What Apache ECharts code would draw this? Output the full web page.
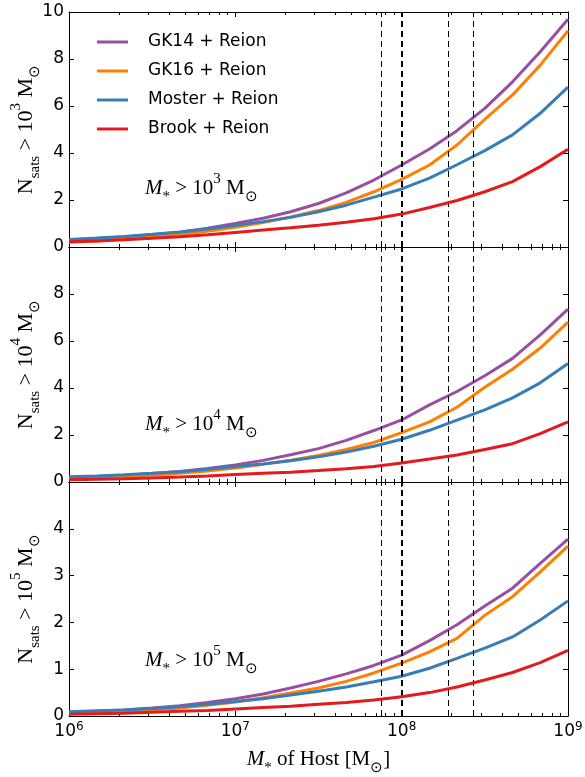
<!DOCTYPE html>
<html><head><meta charset="utf-8">
<script src="https://cdn.jsdelivr.net/npm/echarts@6/dist/echarts.min.js"></script>
<style>html,body{margin:0;padding:0;background:#fff}#c{width:585px;height:777px}</style>
</head><body><div id="c"></div>
<script>
// ---- data ----
const hostMass = [1.00e6, 1.47e6, 2.15e6, 3.16e6, 4.64e6, 6.81e6, 1.00e7, 1.47e7, 2.15e7, 3.16e7, 4.64e7, 6.81e7, 1.00e8, 1.47e8, 2.15e8, 3.16e8, 4.64e8, 6.81e8, 1.00e9];
const seriesNames = ['GK14 + Reion', 'GK16 + Reion', 'Moster + Reion', 'Brook + Reion'];
// panel 1: M* > 10^3
const gk14_p1   = [0.30,0.36,0.43,0.52,0.63,0.80,1.00,1.22,1.50,1.85,2.30,2.85,3.49,4.17,4.95,5.90,7.03,8.31,9.69];
const gk16_p1   = [0.20,0.26,0.33,0.42,0.53,0.67,0.84,1.04,1.28,1.55,1.90,2.35,2.88,3.49,4.34,5.43,6.47,7.74,9.20];
const moster_p1 = [0.32,0.38,0.45,0.54,0.64,0.77,0.92,1.08,1.26,1.50,1.78,2.12,2.47,2.93,3.50,4.10,4.77,5.69,6.80];
const brook_p1  = [0.22,0.26,0.31,0.37,0.44,0.52,0.62,0.72,0.82,0.93,1.05,1.20,1.40,1.68,1.98,2.35,2.78,3.42,4.16];
// panel 2: M* > 10^4
const gk14_p2   = [0.18,0.23,0.29,0.36,0.45,0.57,0.72,0.92,1.16,1.42,1.77,2.19,2.64,3.28,3.85,4.52,5.26,6.26,7.36];
const gk16_p2   = [0.14,0.18,0.23,0.29,0.37,0.47,0.60,0.76,0.93,1.13,1.38,1.68,2.10,2.56,3.18,4.03,4.80,5.70,6.80];
const moster_p2 = [0.22,0.26,0.31,0.37,0.44,0.54,0.66,0.77,0.90,1.07,1.28,1.52,1.82,2.20,2.63,3.07,3.58,4.22,5.04];
const brook_p2  = [0.10,0.12,0.14,0.17,0.21,0.26,0.32,0.37,0.42,0.49,0.56,0.66,0.81,0.98,1.15,1.38,1.63,2.06,2.56];
// panel 3: M* > 10^5
const gk14_p3   = [0.08,0.10,0.13,0.17,0.22,0.29,0.37,0.47,0.60,0.74,0.90,1.08,1.30,1.61,1.95,2.35,2.73,3.26,3.78];
const gk16_p3   = [0.06,0.08,0.10,0.13,0.17,0.23,0.30,0.39,0.49,0.60,0.74,0.92,1.13,1.37,1.66,2.15,2.55,3.08,3.63];
const moster_p3 = [0.09,0.11,0.13,0.16,0.20,0.25,0.31,0.37,0.45,0.53,0.62,0.73,0.85,1.02,1.23,1.45,1.69,2.05,2.46];
const brook_p3  = [0.04,0.05,0.06,0.08,0.10,0.12,0.15,0.18,0.21,0.25,0.29,0.34,0.41,0.50,0.62,0.77,0.93,1.14,1.40];
// reference host masses (dashed lines)
const refMasses = [7.5e7, 1.0e8, 1.01e8, 1.9e8, 2.7e8];
// axes
const xMajorTicks = [1e6, 1e7, 1e8, 1e9];
const yMax = [10, 10, 5];
const yStep = [2, 2, 1];
const thresholdExp = ['3', '4', '5'];

// ---- build ----
const colors = ['#984ea3', '#ff7f00', '#377eb8', '#e41a1c'];
const panels = [
  [gk14_p1, gk16_p1, moster_p1, brook_p1],
  [gk14_p2, gk16_p2, moster_p2, brook_p2],
  [gk14_p3, gk16_p3, moster_p3, brook_p3]
];
const xMinorTicks = [];
for (let d = 6; d < 9; d++) for (let m = 2; m <= 9; m++) xMinorTicks.push(m * Math.pow(10, d));

const SERIF = 'Liberation Serif';
const SANS = 'DejaVu Sans';

const gridBoxes = [{top: 12, height: 235}, {top: 247, height: 235}, {top: 482, height: 234}];
const grid = gridBoxes.map(g => ({left: 69, right: 17, top: g.top, height: g.height, outerBoundsMode: 'none', containLabel: false}));

const xLabelRich = {
  b: {fontFamily: SANS, fontSize: 17, color: '#000', lineHeight: 22},
  s: {fontFamily: SANS, fontSize: 12, color: '#000', lineHeight: 12, verticalAlign: 'top'}
};
function xAxisDef(gi, pos, ticks, len, showLine, showLabel, extra) {
  return Object.assign({
    type: 'log', logBase: 10, gridIndex: gi, min: 1e6, max: 1e9, position: pos,
    axisLine: {show: showLine, onZero: false, lineStyle: {color: '#000', width: 1}},
    axisTick: {show: true, inside: true, length: len, customValues: ticks, lineStyle: {color: '#000', width: 1}},
    axisLabel: {
      show: showLabel, customValues: xMajorTicks, margin: 5, showMinLabel: true, showMaxLabel: true,
      formatter: v => '{b|10}{s|' + Math.round(Math.log10(v)) + '}', rich: xLabelRich
    },
    splitLine: {show: false}, minorTick: {show: false}
  }, extra || {});
}

const mathRich = (size) => ({
  r: {fontFamily: SERIF, fontSize: size, color: '#000', lineHeight: size + 12},
  i: {fontFamily: SERIF, fontStyle: 'italic', fontSize: size, color: '#000', lineHeight: size + 12},
  sub: {fontFamily: SERIF, fontSize: Math.round(size * 0.7), color: '#000', lineHeight: Math.round(size * 0.7) + 1, verticalAlign: 'bottom'},
  sup: {fontFamily: SERIF, fontSize: Math.round(size * 0.7), color: '#000', lineHeight: Math.round(size * 0.7) + 1, verticalAlign: 'top'}
});

const xAxis = [];
const yAxis = [];
for (let i = 0; i < 3; i++) {
  const bottom = i === 2;
  xAxis.push(xAxisDef(i, 'bottom', xMajorTicks, 5, true, bottom, bottom ? {
    name: '{i|M}{sub|*}{r| of Host [M}{sub|⊙}{r|]}',
    nameLocation: 'middle', nameGap: 27,
    nameTextStyle: {rich: mathRich(21)}
  } : {}));
  xAxis.push(xAxisDef(i, 'bottom', xMinorTicks, 3, false, false));
  xAxis.push(xAxisDef(i, 'top', xMajorTicks, 5, true, false));
  xAxis.push(xAxisDef(i, 'top', xMinorTicks, 3, false, false));

  yAxis.push({
    type: 'value', gridIndex: i, min: 0, max: yMax[i], interval: yStep[i], position: 'left',
    axisLine: {show: true, onZero: false, lineStyle: {color: '#000', width: 1}},
    axisTick: {show: true, inside: true, length: 5, lineStyle: {color: '#000'}},
    axisLabel: {fontFamily: SANS, fontSize: 17, color: '#000', margin: 5, showMaxLabel: i === 0, showMinLabel: true},
    splitLine: {show: false},
    name: '{r|N}{sub|sats}{r| > 10}{sup|' + thresholdExp[i] + '}{r| M}{sub|⊙}',
    nameLocation: 'middle', nameRotate: 90, nameGap: 26, nameMoveOverlap: false,
    nameTextStyle: {rich: mathRich(22)}
  });
  yAxis.push({
    type: 'value', gridIndex: i, min: 0, max: yMax[i], interval: yStep[i], position: 'right',
    axisLine: {show: true, onZero: false, lineStyle: {color: '#000', width: 1}},
    axisTick: {show: true, inside: true, length: 5, lineStyle: {color: '#000'}},
    axisLabel: {show: false}, splitLine: {show: false}
  });
}

const series = [];
for (let i = 0; i < 3; i++) {
  series.push({
    type: 'line', xAxisIndex: 4 * i, yAxisIndex: 2 * i, data: [], silent: true, z: 1,
    markLine: {
      silent: true, symbol: 'none', label: {show: false},
      lineStyle: {color: '#000', width: 1, type: [6, 4]},
      data: refMasses.map(m => ({xAxis: m}))
    }
  });
  panels[i].forEach((vals, s) => {
    series.push({
      name: seriesNames[s], type: 'line', xAxisIndex: 4 * i, yAxisIndex: 2 * i,
      data: hostMass.map((m, k) => [m, vals[k]]),
      showSymbol: false, symbol: 'none', z: 2 + s,
      lineStyle: {color: colors[s], width: 3}, itemStyle: {color: colors[s]},
      animation: false
    });
  });
}

const annotY = [188, 424, 660];
const graphic = annotY.map((y, i) => ({
  type: 'text', left: 145, top: y - 16,
  style: {
    text: '{i|M}{sub|*}{r| > 10}{sup|' + thresholdExp[i] + '}{r| M}{sub|⊙}',
    rich: mathRich(21)
  }
}));

const option = {
  animation: false,
  backgroundColor: '#fff',
  grid, xAxis, yAxis, series, graphic,
  legend: {
    data: seriesNames, orient: 'vertical', left: 92, top: 27, itemGap: 9,
    icon: 'rect', itemWidth: 31, itemHeight: 3,
    textStyle: {fontFamily: SANS, fontSize: 17, color: '#000', lineHeight: 20, padding: [0, 0, 0, 15]}
  }
};
const chart = echarts.init(document.getElementById('c'));
chart.setOption(option);
</script>
</body></html>
